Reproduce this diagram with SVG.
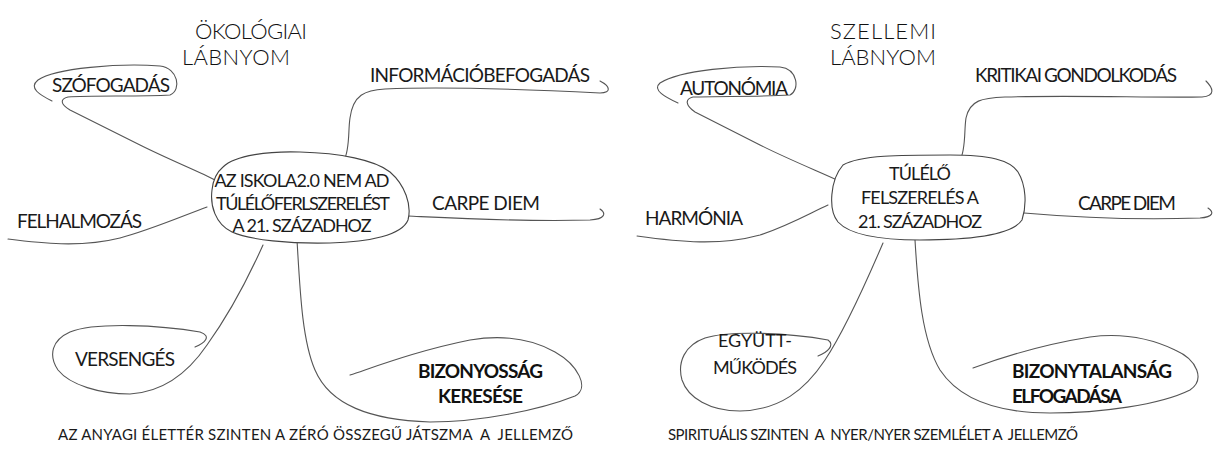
<svg xmlns="http://www.w3.org/2000/svg" width="1215" height="450" viewBox="0 0 1215 450">
<style>
.bg{fill:#ffffff}
.ln{fill:none;stroke:#555;stroke-width:1.1;stroke-linecap:round;stroke-linejoin:round}
.bub{fill:#ffffff;stroke:#444;stroke-width:1.1}
.t{font-family:Lato,"Liberation Sans",sans-serif;font-size:19px;fill:#1a1a1a}
.tc{font-family:Lato,"Liberation Sans",sans-serif;font-size:18px;fill:#1a1a1a;text-anchor:middle}
.b{font-family:Lato,"Liberation Sans",sans-serif;font-size:19px;font-weight:bold;fill:#111}
.title{font-family:Lato,"DejaVu Sans",sans-serif;font-weight:300;font-size:22px;fill:#111}
.foot{font-family:Lato,"Liberation Sans",sans-serif;font-size:15px;fill:#1a1a1a;white-space:pre}
</style>
<rect class="bg" x="0" y="0" width="1215" height="450"/>

<g id="connectors">
  <!-- left diagram -->
  <path id="c-szofogadas" class="ln" d="M 52,101 C 40,95 28,88 38,80 C 55,68 120,63 160,66 C 178,68 182,90 170,95 C 140,97 90,95 68,97 C 60,99 60,104 70,110 L 140,145 C 170,160 200,172 215,180"/>
  <path id="c-info" class="ln" d="M 344,160 C 350,150 348,130 350,118 C 353,95 365,90 385,89 C 450,86 540,90 600,93 C 612,93 610,86 600,81"/>
  <path id="c-felhalm" class="ln" d="M 8,239 C 40,243 80,248 120,238 C 150,230 180,217 207,207"/>
  <path id="c-carpe1" class="ln" d="M 408,216 C 450,218 520,222 590,220 C 606,219 606,213 600,209"/>
  <path id="c-verseng" class="ln" d="M 263,245 C 245,285 225,320 207,345 C 190,370 165,392 130,394 C 100,394 70,385 58,370 C 48,355 52,340 70,332 C 95,322 160,325 200,332 C 212,336 205,343 195,347"/>
  <path id="c-bizony" class="ln" d="M 297,240 C 300,290 302,340 315,370 C 330,405 370,420 430,422 C 480,422 540,410 575,396 C 590,388 578,365 555,352 C 530,338 500,335 470,340 C 420,350 380,365 350,375"/>
  <!-- right diagram -->
  <path id="c-autonomia" class="ln" d="M 678,103 C 665,97 652,90 660,83 C 680,70 740,65 780,67 C 798,69 800,90 790,95 C 760,97 720,96 693,97 C 685,99 685,105 695,112 L 760,145 C 790,160 820,172 837,180"/>
  <path id="c-kritikai" class="ln" d="M 960,160 C 966,150 964,130 966,118 C 970,100 982,98 1005,97 C 1080,95 1150,98 1202,97 C 1216,96 1213,88 1206,81"/>
  <path id="c-harmonia" class="ln" d="M 637,236 C 680,242 720,246 760,235 C 790,225 810,213 828,205"/>
  <path id="c-carpe2" class="ln" d="M 1024,213 C 1070,217 1140,220 1200,218 C 1214,217 1214,212 1208,208"/>
  <path id="c-egyutt" class="ln" d="M 883,243 C 865,285 845,330 825,360 C 805,390 780,410 740,411 C 710,411 688,398 682,380 C 677,362 685,345 705,338 C 730,330 790,333 828,340 C 835,345 828,352 818,356"/>
  <path id="c-bizonytalan" class="ln" d="M 915,240 C 918,290 922,340 940,370 C 960,400 1000,413 1050,413 C 1100,413 1160,405 1190,390 C 1205,380 1198,360 1175,350 C 1150,338 1120,333 1090,337 C 1040,345 1000,358 973,368"/>
</g>

<g id="title-left">
  <text class="title" x="195" y="39" textLength="112">ÖKOLÓGIAI</text>
  <text class="title" x="182" y="65" textLength="108">LÁBNYOM</text>
</g>
<g id="title-right">
  <text class="title" x="830" y="39" textLength="106">SZELLEMI</text>
  <text class="title" x="830" y="65" textLength="106">LÁBNYOM</text>
</g>

<g id="node-center-left">
  <path class="bub" d="M 223,167 C 235,155 270,151 300,152 C 340,153 375,160 390,172 C 405,185 412,205 408,220 C 402,235 370,242 330,243 C 290,244 250,240 232,232 C 215,224 210,205 212,190 C 213,180 217,172 223,167 Z"/>
  <text class="tc" x="302" y="187" textLength="175">AZ ISKOLA2.0 NEM AD</text>
  <text class="tc" x="303" y="210" textLength="174">TÚLÉLŐFERLSZERELÉST</text>
  <text class="tc" x="302" y="232" textLength="139">A 21. SZÁZADHOZ</text>
</g>
<g id="node-szofogadas"><text class="t" x="52" y="92" textLength="118">SZÓFOGADÁS</text></g>
<g id="node-info"><text class="t" x="370" y="82" textLength="220">INFORMÁCIÓBEFOGADÁS</text></g>
<g id="node-felhalm"><text class="t" x="17" y="228" textLength="125">FELHALMOZÁS</text></g>
<g id="node-carpe1"><text class="t" x="432" y="210" textLength="108">CARPE DIEM</text></g>
<g id="node-verseng"><text class="t" x="75" y="366" textLength="100">VERSENGÉS</text></g>
<g id="node-bizony">
  <text class="b" x="418" y="378" textLength="125">BIZONYOSSÁG</text>
  <text class="b" x="438" y="403" textLength="85">KERESÉSE</text>
</g>
<g id="foot-left"><text class="foot" x="58" y="440" textLength="515">AZ ANYAGI ÉLETTÉR SZINTEN A ZÉRÓ ÖSSZEGŰ JÁTSZMA  A  JELLEMZŐ</text></g>

<g id="node-center-right">
  <path class="bub" d="M 843,165 C 860,155 900,155 950,155 C 990,155 1010,160 1018,172 C 1026,185 1027,205 1022,220 C 1012,235 970,240 920,240 C 880,240 850,235 838,222 C 828,210 830,180 843,165 Z"/>
  <text class="tc" x="920" y="180" textLength="62">TÚLÉLŐ</text>
  <text class="tc" x="920" y="204" textLength="118">FELSZERELÉS A</text>
  <text class="tc" x="920" y="228" textLength="124">21. SZÁZADHOZ</text>
</g>
<g id="node-autonomia"><text class="t" x="680" y="95" textLength="108">AUTONÓMIA</text></g>
<g id="node-kritikai"><text class="t" x="975" y="82" textLength="202">KRITIKAI GONDOLKODÁS</text></g>
<g id="node-harmonia"><text class="t" x="645" y="225" textLength="98">HARMÓNIA</text></g>
<g id="node-carpe2"><text class="t" x="1078" y="210" textLength="98">CARPE DIEM</text></g>
<g id="node-egyutt">
  <text class="tc" x="755" y="347" textLength="74">EGYÜTT-</text>
  <text class="tc" x="755" y="374" textLength="84">MŰKÖDÉS</text>
</g>
<g id="node-bizonytalan">
  <text class="b" x="1012" y="378" textLength="160">BIZONYTALANSÁG</text>
  <text class="b" x="1012" y="403" textLength="110">ELFOGADÁSA</text>
</g>
<g id="foot-right"><text class="foot" x="668" y="440" textLength="410">SPIRITUÁLIS SZINTEN  A  NYER/NYER SZEMLÉLET A  JELLEMZŐ</text></g>
</svg>
